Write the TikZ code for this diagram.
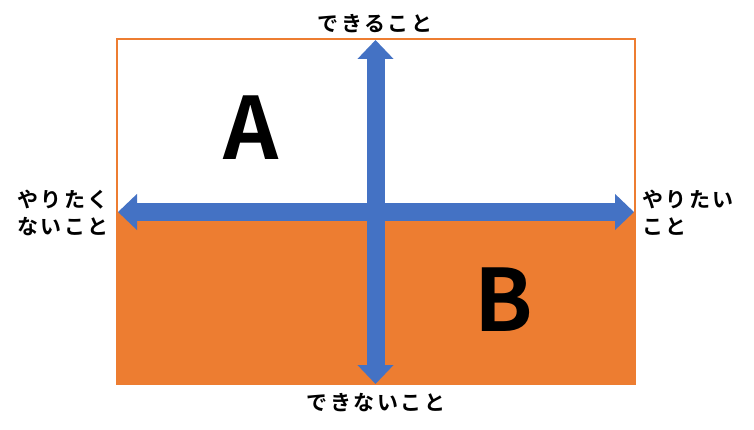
\documentclass[tikz,border=0pt]{standalone}
\usepackage{fontspec}
\newfontfamily\jpfont{Noto Sans CJK JP}[BoldFont={* Bold}]
\usetikzlibrary{arrows.meta,positioning}

\definecolor{quadorange}{HTML}{ED7D31}
\definecolor{axisblue}{HTML}{4472C4}

\begin{document}
\begin{tikzpicture}[
  x=1pt, y=-1pt,
  font=\jpfont\bfseries,
  axis/.style={{Triangle[length=19pt,width=35pt]}-{Triangle[length=19pt,width=35pt]}, line width=18pt, draw=axisblue},
  lbl/.style={inner sep=0pt, font=\jpfont\bfseries\fontsize{21}{27}\selectfont\addfontfeatures{LetterSpace=12}},
  letter/.style={inner sep=0pt, font=\jpfont\bfseries\fontsize{86}{86}\selectfont}
]
\useasboundingbox (0,0) rectangle (754,430);

% quadrants
\fill[quadorange] (117,212) rectangle (635,384);
\draw[quadorange, line width=2pt] (117,39) rectangle (635,384);

% axes
\coordinate (top) at (375.5,40);
\coordinate (bottom) at (375.5,384);
\coordinate (left) at (118,212);
\coordinate (right) at (634,212);
\draw[axis] (left) -- (right);
\draw[axis] (bottom) -- (top);

% labels
\node[lbl] (can) at (375,24) {できること};
\node[lbl] (cannot) at (376,403) {できないこと};
\node[lbl, align=right, anchor=east] (notwant) at (109,213) {やりたく\\ないこと};
\node[lbl, align=left, anchor=west] (want) at (642,213) {やりたい\\こと};

\node[letter] (qa) at (251,128) {A};
\node[letter] (qb) at (504,300) {B};

\end{tikzpicture}
\end{document}
